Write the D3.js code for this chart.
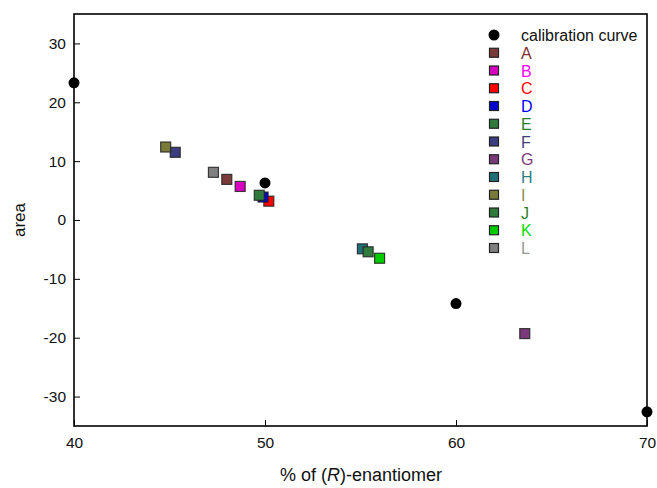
<!DOCTYPE html>
<html>
<head>
<meta charset="utf-8">
<script src="https://cdn.jsdelivr.net/npm/d3@7"></script>
<style>
  body { margin: 0; background: #fff; }
  svg text { font-family: "Liberation Sans", Arial, sans-serif; }
</style>
</head>
<body>
<svg id="chart" width="657" height="488"></svg>
<script>
// calibration curve (black dots)
var calibX = [40, 50, 60, 70];
var calibY = [23.3, 6.3, -14.2, -32.6];

// samples A..L
var sampleNames = ["A", "B", "C", "D", "E", "F", "G", "H", "I", "J", "K", "L"];
var sampleX = [48.0, 48.7, 50.2, 49.9, 49.7, 45.3, 63.6, 55.1, 44.8, 55.4, 56.0, 47.3];
var sampleY = [6.9, 5.7, 3.2, 3.9, 4.2, 11.5, -19.3, -4.9, 12.4, -5.4, -6.5, 8.1];
var fillColors = ["#7b3b3b", "#d800c0", "#ff0000", "#0000cc", "#2f7a3c", "#3c3c80", "#7a3a7a", "#206f78", "#7a7a3a", "#2f7a3c", "#00cc00", "#808080"];
var textColors = ["#7f3030", "#ff00ff", "#ff0000", "#0000ff", "#2a7f2a", "#3f3f80", "#803a80", "#2a8080", "#8f8f50", "#2a7f2a", "#00dd00", "#999999"];

var xTicks = [40, 50, 60, 70];
var yTicks = [-30, -20, -10, 0, 10, 20, 30];

var svg = d3.select("#chart");
var x = d3.scaleLinear().domain([40, 70]).range([74, 647]);
var y = d3.scaleLinear().domain([-35, 35]).range([426, 14]);

// frame
svg.append("rect")
  .attr("x", x(40)).attr("y", y(35))
  .attr("width", x(70) - x(40)).attr("height", y(-35) - y(35))
  .attr("style", "fill:none;stroke:#000;stroke-width:1.6;");

// ticks pointing inward, plain hyphen for negatives
var fmt = function(d) { return String(d); };
var xAxis = svg.append("g")
  .attr("transform", "translate(0," + y(-35) + ")")
  .call(d3.axisBottom(x).tickValues(xTicks).tickFormat(fmt).tickSizeInner(-6).tickSizeOuter(0).tickPadding(11));
var yAxis = svg.append("g")
  .attr("transform", "translate(" + x(40) + ",0)")
  .call(d3.axisLeft(y).tickValues(yTicks).tickFormat(fmt).tickSizeInner(-6).tickSizeOuter(0).tickPadding(8));

[xAxis, yAxis].forEach(function(a) {
  a.attr("font-size", null).attr("font-family", null);
  a.select(".domain").remove();
  a.selectAll("line").attr("stroke", "#000").attr("stroke-width", 1);
  a.selectAll("text").style("font-size", "15.5px").attr("fill", "#111");
});

// axis titles
svg.append("text")
  .attr("x", 361).attr("y", 481)
  .style("font-size", "18px").style("text-anchor", "middle").attr("fill", "#111")
  .html('% of (<tspan font-style="italic">R</tspan>)-enantiomer');
svg.append("text")
  .attr("transform", "translate(25," + y(0) + ") rotate(-90)")
  .style("font-size", "17px").style("text-anchor", "middle").attr("fill", "#111")
  .text("area");

// calibration dots
svg.append("g").selectAll("circle")
  .data(calibX)
  .join("circle")
  .attr("cx", function(d) { return x(d); })
  .attr("cy", function(d, i) { return y(calibY[i]); })
  .attr("r", 5.5)
  .attr("fill", "#000");

// sample squares
var sq = 10;
svg.append("g").selectAll("rect")
  .data(sampleNames)
  .join("rect")
  .attr("x", function(d, i) { return x(sampleX[i]) - sq / 2; })
  .attr("y", function(d, i) { return y(sampleY[i]) - sq / 2; })
  .attr("width", sq).attr("height", sq)
  .attr("fill", function(d, i) { return fillColors[i]; })
  .attr("stroke", "#222").attr("stroke-width", 1.2).attr("stroke-opacity", 0.85);

// legend
var lg = svg.append("g");
var lx = 494, ly0 = 35, step = 17.75;
lg.append("circle").attr("cx", lx).attr("cy", ly0).attr("r", 5.5).attr("fill", "#000");
lg.append("text").attr("x", 521).attr("y", ly0 + 5.5)
  .style("font-size", "16px").attr("fill", "#111").text("calibration curve");
sampleNames.forEach(function(name, i) {
  var yy = ly0 + step * (i + 1);
  lg.append("rect")
    .attr("x", lx - 4.5).attr("y", yy - 4.5).attr("width", 9).attr("height", 9)
    .attr("fill", fillColors[i]).attr("stroke", "#222").attr("stroke-width", 1.2);
  lg.append("text").attr("x", 521).attr("y", yy + 6)
    .style("font-size", "16px").attr("fill", textColors[i]).text(name);
});
</script>
</body>
</html>
